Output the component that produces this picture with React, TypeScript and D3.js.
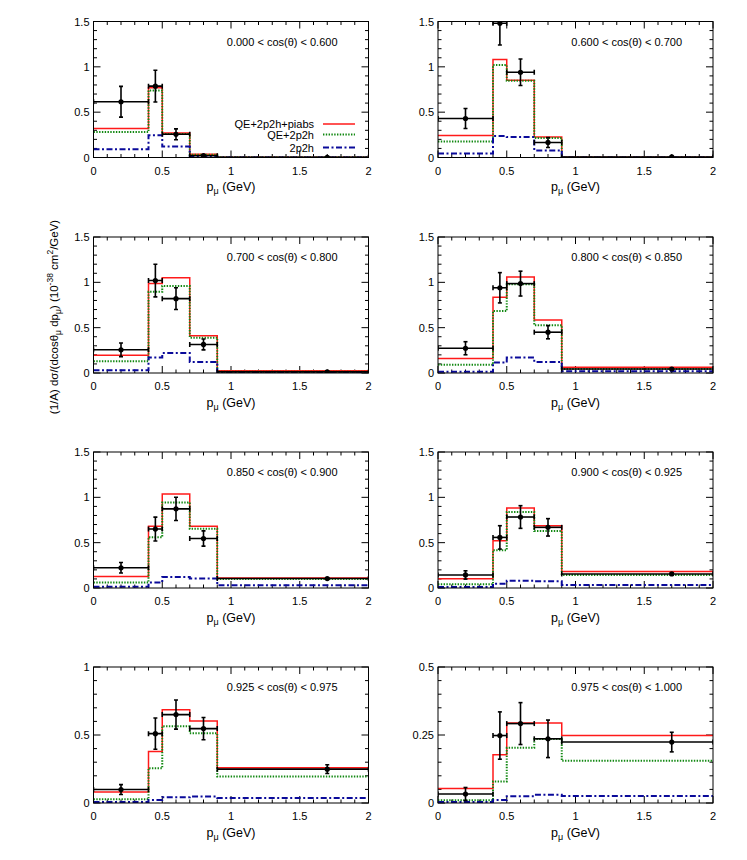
import * as d3 from "d3";

// bin edges of the histograms (GeV) and the data points
const EDGES = [0, 0.4, 0.5, 0.7, 0.9, 2.0];
const PT_X = [0.2, 0.45, 0.6, 0.8, 1.7];
const PT_XLO = [0, 0.4, 0.5, 0.7, 0.9];
const PT_XHI = [0.4, 0.5, 0.7, 0.9, 2.0];

const LABELS = [
  "0.000 < cos(θ) < 0.600",
  "0.600 < cos(θ) < 0.700",
  "0.700 < cos(θ) < 0.800",
  "0.800 < cos(θ) < 0.850",
  "0.850 < cos(θ) < 0.900",
  "0.900 < cos(θ) < 0.925",
  "0.925 < cos(θ) < 0.975",
  "0.975 < cos(θ) < 1.000",
];

const Y_MAX = [1.5, 1.5, 1.5, 1.5, 1.5, 1.5, 1, 0.5];
const Y_TICKS = [
  [0, 0.5, 1, 1.5],
  [0, 0.5, 1, 1.5],
  [0, 0.5, 1, 1.5],
  [0, 0.5, 1, 1.5],
  [0, 0.5, 1, 1.5],
  [0, 0.5, 1, 1.5],
  [0, 0.5, 1],
  [0, 0.25, 0.5],
];
const Y_MINOR = [0.1, 0.1, 0.1, 0.1, 0.1, 0.1, 0.1, 0.05];
const X_TICKS = [0, 0.5, 1, 1.5, 2];

// QE+2p2h+piabs
const RED = [
  [0.32, 0.77, 0.27, 0.035, 0.004],
  [0.244, 1.08, 0.853, 0.225, 0.002],
  [0.197, 0.988, 1.05, 0.41, 0.026],
  [0.16, 0.835, 1.06, 0.584, 0.063],
  [0.126, 0.68, 1.036, 0.68, 0.111],
  [0.103, 0.52, 0.883, 0.687, 0.181],
  [0.081, 0.379, 0.685, 0.603, 0.259],
  [0.053, 0.177, 0.294, 0.294, 0.248],
];
// QE+2p2h
const GREEN = [
  [0.28, 0.74, 0.26, 0.03, 0.003],
  [0.177, 1.02, 0.846, 0.214, 0.001],
  [0.13, 0.895, 0.96, 0.39, 0.015],
  [0.092, 0.683, 0.98, 0.528, 0.044],
  [0.06, 0.56, 0.943, 0.654, 0.1],
  [0.04, 0.417, 0.838, 0.628, 0.144],
  [0.027, 0.256, 0.564, 0.512, 0.195],
  [0.01, 0.079, 0.203, 0.235, 0.155],
];
// 2p2h
const BLUE = [
  [0.09, 0.245, 0.12, 0.012, 0.001],
  [0.044, 0.236, 0.225, 0.078, 0.001],
  [0.03, 0.17, 0.22, 0.12, 0.007],
  [0.015, 0.115, 0.17, 0.122, 0.018],
  [0.015, 0.06, 0.122, 0.104, 0.03],
  [0.01, 0.048, 0.08, 0.074, 0.033],
  [0.007, 0.022, 0.042, 0.047, 0.037],
  [0.004, 0.011, 0.025, 0.03, 0.026],
];
// measured points
const DATA_Y = [
  [0.615, 0.787, 0.256, 0.02, 0.003],
  [0.43, 1.48, 0.94, 0.166, 0.006],
  [0.256, 1.02, 0.82, 0.315, 0.012],
  [0.273, 0.94, 0.986, 0.45, 0.044],
  [0.223, 0.65, 0.873, 0.546, 0.104],
  [0.144, 0.558, 0.783, 0.669, 0.155],
  [0.099, 0.51, 0.65, 0.547, 0.249],
  [0.033, 0.248, 0.292, 0.236, 0.224],
];
const DATA_ERR = [
  [0.17, 0.175, 0.06, 0.01, 0.004],
  [0.11, 0.24, 0.146, 0.055, 0.004],
  [0.075, 0.18, 0.12, 0.06, 0.006],
  [0.072, 0.167, 0.137, 0.073, 0.01],
  [0.058, 0.132, 0.128, 0.084, 0.008],
  [0.046, 0.129, 0.125, 0.096, 0.01],
  [0.036, 0.115, 0.107, 0.082, 0.032],
  [0.024, 0.087, 0.077, 0.069, 0.036],
];

const LEGEND = ["QE+2p2h+piabs", "QE+2p2h", "2p2h"];

const COL_X = [93.5, 438];
const ROW_Y = [21.5, 237, 452, 667];
const W = 275;
const H = 136;
const FONT = "'Liberation Sans', Arial, Helvetica, sans-serif";

const styles = [
  { stroke: "#ff1a1a", width: 1.5, dash: undefined },
  { stroke: "#118811", width: 2, dash: "1.4,1.4" },
  { stroke: "#0a0a9a", width: 2, dash: "6,2.5,2,2.5" },
];

function fmt(v: number) {
  return v === 0 ? "0" : String(v);
}

function Panel({ idx }: { idx: number }) {
  const left = COL_X[idx % 2];
  const top = ROW_Y[Math.floor(idx / 2)];
  const x = d3.scaleLinear().domain([0, 2]).range([0, W]);
  const y = d3.scaleLinear().domain([0, Y_MAX[idx]]).range([H, 0]);

  const step = d3
    .line<[number, number]>()
    .x((d) => x(d[0]))
    .y((d) => y(d[1]))
    .curve(d3.curveStepAfter);

  const hist = (vals: number[]) =>
    step([
      ...vals.map((v, k) => [EDGES[k], v] as [number, number]),
      [EDGES[EDGES.length - 1], vals[vals.length - 1]] as [number, number],
    ]) || "";

  const xMinor = d3.range(0, 2.0001, 0.1).filter((v) => Math.abs(v * 2 - Math.round(v * 2)) > 1e-6);
  const yMinor = d3
    .range(0, Y_MAX[idx] + 1e-6, Y_MINOR[idx])
    .filter((v) => !Y_TICKS[idx].some((t) => Math.abs(t - v) < 1e-6));

  const clipId = `clip${idx}`;
  const series = [RED[idx], GREEN[idx], BLUE[idx]];

  return (
    <g transform={`translate(${left},${top})`}>
      <defs>
        <clipPath id={clipId}>
          <rect x={0} y={0} width={W} height={H} />
        </clipPath>
      </defs>

      {/* ticks, mirrored on all four sides */}
      {X_TICKS.map((t) => (
        <g key={"xt" + t} stroke="#000" strokeWidth={1}>
          <line x1={x(t)} x2={x(t)} y1={H} y2={H - 7} />
          <line x1={x(t)} x2={x(t)} y1={0} y2={7} />
        </g>
      ))}
      {xMinor.map((t) => (
        <g key={"xm" + t} stroke="#000" strokeWidth={1}>
          <line x1={x(t)} x2={x(t)} y1={H} y2={H - 3.5} />
          <line x1={x(t)} x2={x(t)} y1={0} y2={3.5} />
        </g>
      ))}
      {Y_TICKS[idx].map((t) => (
        <g key={"yt" + t} stroke="#000" strokeWidth={1}>
          <line x1={0} x2={7} y1={y(t)} y2={y(t)} />
          <line x1={W} x2={W - 7} y1={y(t)} y2={y(t)} />
        </g>
      ))}
      {yMinor.map((t) => (
        <g key={"ym" + t} stroke="#000" strokeWidth={1}>
          <line x1={0} x2={3.5} y1={y(t)} y2={y(t)} />
          <line x1={W} x2={W - 3.5} y1={y(t)} y2={y(t)} />
        </g>
      ))}

      {/* tick labels */}
      {X_TICKS.map((t) => (
        <text key={"xl" + t} x={x(t)} y={H + 17} fontSize={11} textAnchor="middle" fontFamily={FONT}>
          {fmt(t)}
        </text>
      ))}
      {Y_TICKS[idx].map((t) => (
        <text key={"yl" + t} x={-4} y={y(t) + 4} fontSize={11} textAnchor="end" fontFamily={FONT}>
          {fmt(t)}
        </text>
      ))}

      <text x={W / 2} y={H + 33.5} fontSize={12.5} textAnchor="middle" fontFamily={FONT}>
        p
        <tspan fontSize={9} dy={3}>
          μ
        </tspan>
        <tspan dy={-3}> (GeV)</tspan>
      </text>

      <text x={W - 31} y={24} fontSize={11} textAnchor="end" fontFamily={FONT}>
        {LABELS[idx]}
      </text>

      <g clipPath={`url(#${clipId})`}>
        {series.map((vals, s) => (
          <path
            key={"h" + s}
            d={hist(vals)}
            fill="none"
            stroke={styles[s].stroke}
            strokeWidth={styles[s].width}
            strokeDasharray={styles[s].dash}
          />
        ))}

        {PT_X.map((px, k) => {
          const v = DATA_Y[idx][k];
          const e = DATA_ERR[idx][k];
          const cx = x(px);
          const cy = y(v);
          const xl = x(PT_XLO[k]);
          const xh = x(PT_XHI[k]);
          return (
            <g key={"p" + k} stroke="#000" strokeWidth={1.6}>
              <line x1={xl} x2={xh} y1={cy} y2={cy} />
              <line x1={xl} x2={xl} y1={cy - 2.5} y2={cy + 2.5} />
              <line x1={xh} x2={xh} y1={cy - 2.5} y2={cy + 2.5} />
              <line x1={cx} x2={cx} y1={y(v - e)} y2={y(v + e)} />
              <line x1={cx - 2} x2={cx + 2} y1={y(v - e)} y2={y(v - e)} />
              <line x1={cx - 2} x2={cx + 2} y1={y(v + e)} y2={y(v + e)} />
              <circle cx={cx} cy={cy} r={2.6} fill="#000" stroke="none" />
            </g>
          );
        })}
      </g>

      {idx === 0 &&
        LEGEND.map((name, s) => {
          const ly = [124, 134.5, 147.5][s] - top;
          return (
            <g key={"lg" + s}>
              <text x={220.5} y={ly + 4} fontSize={11} textAnchor="end" fontFamily={FONT}>
                {name}
              </text>
              <line
                x1={229.5}
                x2={261.5}
                y1={ly}
                y2={ly}
                stroke={styles[s].stroke}
                strokeWidth={styles[s].width}
                strokeDasharray={styles[s].dash}
              />
            </g>
          );
        })}

      <rect x={0} y={0} width={W} height={H} fill="none" stroke="#000" strokeWidth={1} />
    </g>
  );
}

export default function App() {
  return (
    <svg
      width={747}
      height={860}
      style={{ position: "absolute", left: 0, top: 0, background: "#fff" }}
    >
      {d3.range(8).map((i) => (
        <Panel key={i} idx={i} />
      ))}
      <text
        transform="translate(58,317) rotate(-90)"
        fontSize={11.5}
        textAnchor="middle"
        fontFamily={FONT}
      >
        (1/A) dσ/(dcosθ
        <tspan fontSize={8.5} dy={3}>μ</tspan>
        <tspan dy={-3}> dp</tspan>
        <tspan fontSize={8.5} dy={3}>μ</tspan>
        <tspan dy={-3}>) (10</tspan>
        <tspan fontSize={8.5} dy={-5}>-38</tspan>
        <tspan dy={5}> cm</tspan>
        <tspan fontSize={8.5} dy={-5}>2</tspan>
        <tspan dy={5}>/GeV)</tspan>
      </text>
    </svg>
  );
}
